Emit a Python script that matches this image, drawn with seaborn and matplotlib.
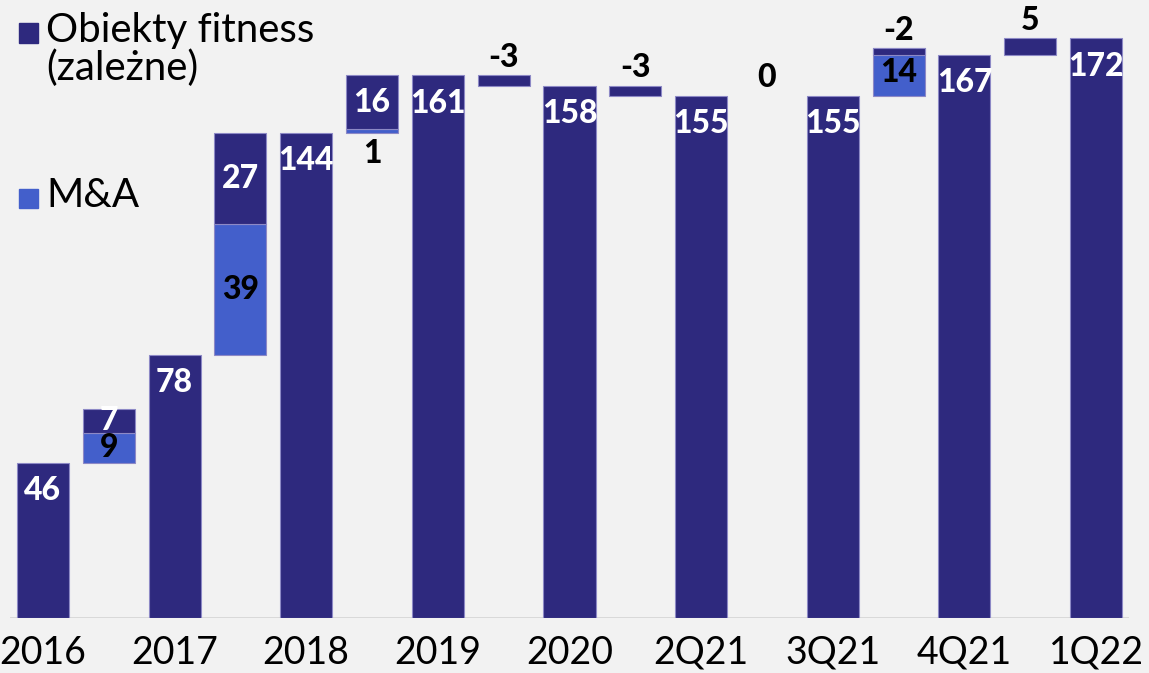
import matplotlib
matplotlib.use("Agg")
import matplotlib.pyplot as plt
from matplotlib.patches import Rectangle
import pandas as pd
import seaborn as sns

# Period totals (number of fitness clubs)
total_labels = ["2016", "2017", "2018", "2019", "2020", "2Q21", "3Q21", "4Q21", "1Q22"]
total_values = [46, 78, 144, 161, 158, 155, 155, 167, 172]

# Changes between consecutive periods
ma_values = [9, 39, 1, 0, 0, 0, 14, 0]          # acquisitions
organic_values = [7, 27, 16, -3, -3, 0, -2, 5]  # own clubs opened / closed

legend_labels = ["Obiekty fitness\n(zależne)", "M&A"]

DARK = "#2E297E"
BLUE = "#435FCB"
EDGE = "#8D89C6"
BG = "#F2F2F2"
VAL_FS = 23
VAL_W = "black"

sns.set_theme(style="white")
plt.rcParams["font.family"] = ["Lato", "DejaVu Sans"]

W, H = 1149, 673
fig = plt.figure(figsize=(W / 100, H / 100), dpi=100, facecolor=BG)
ax = fig.add_axes([10 / W, 55 / H, 1119 / W, 618 / H])
ax.set_facecolor(BG)

# step order: total, change, total, change, ...
steps = []
for i, lab in enumerate(total_labels):
    steps.append(lab)
    if i < len(ma_values):
        steps.append(f"zm_{i}")

df_tot = pd.DataFrame({"step": total_labels, "value": total_values})
sns.barplot(data=df_tot, x="step", y="value", order=steps, color=DARK,
            saturation=1, width=0.79, edgecolor=EDGE, linewidth=0.8, ax=ax)

BW = 0.79
for i, v in enumerate(total_values):
    x = 2 * i
    ax.annotate(str(v), (x, v), xytext=(0, -20), textcoords="offset points",
                ha="center", va="center", color="white", fontsize=VAL_FS,
                fontweight=VAL_W)

for i, (ma, org) in enumerate(zip(ma_values, organic_values)):
    x = 2 * i + 1
    base = total_values[i]
    if ma:
        ax.bar(x, ma, bottom=base, width=BW, color=BLUE, edgecolor=EDGE,
               linewidth=0.8)
        if ma >= 3:
            ax.text(x, base + ma / 2, str(ma), ha="center", va="center",
                    color="black", fontsize=VAL_FS, fontweight=VAL_W)
        else:
            ax.annotate(str(ma), (x, base), xytext=(0, -15),
                        textcoords="offset points", ha="center", va="center",
                        color="black", fontsize=VAL_FS, fontweight=VAL_W)
    start = base + ma
    if org:
        lo = min(start, start + org)
        ax.bar(x, abs(org), bottom=lo, width=BW, color=DARK, edgecolor=EDGE,
               linewidth=0.8)
    stack_top = max(start, start + org)
    if ma > 0 and org > 0:
        ax.text(x, start + org / 2, str(org), ha="center", va="center",
                color="white", fontsize=VAL_FS, fontweight=VAL_W)
    else:
        ax.annotate(str(org), (x, stack_top), xytext=(0, 13),
                    textcoords="offset points", ha="center", va="center",
                    color="black", fontsize=VAL_FS, fontweight=VAL_W)

ax.set_xlim(-0.5, len(steps) - 0.5)
ax.set_ylim(0, 618 / 3.37)
ax.set_xticks(range(len(steps)))
ax.set_xticklabels([s if s in total_labels else "" for s in steps],
                   fontsize=27, color="black")
ax.tick_params(axis="x", length=0, pad=12)
ax.set_yticks([])
ax.set_xlabel("")
ax.set_ylabel("")
for s in ax.spines.values():
    s.set_visible(False)
ax.axhline(0, color="#D6D6D6", lw=2, zorder=0.5)

# legend
for (ypx, col, lab) in [(33, DARK, legend_labels[0]), (198, BLUE, legend_labels[1])]:
    fig.add_artist(Rectangle((19 / W, 1 - (ypx + 9.5) / H), 19 / W, 19 / H,
                             transform=fig.transFigure, color=col))
    fig.text(46 / W, 1 - (ypx - 21) / H, lab, ha="left", va="top",
             fontsize=29, color="black", linespacing=1.0)

fig.savefig("out.png", dpi=100, facecolor=BG)
